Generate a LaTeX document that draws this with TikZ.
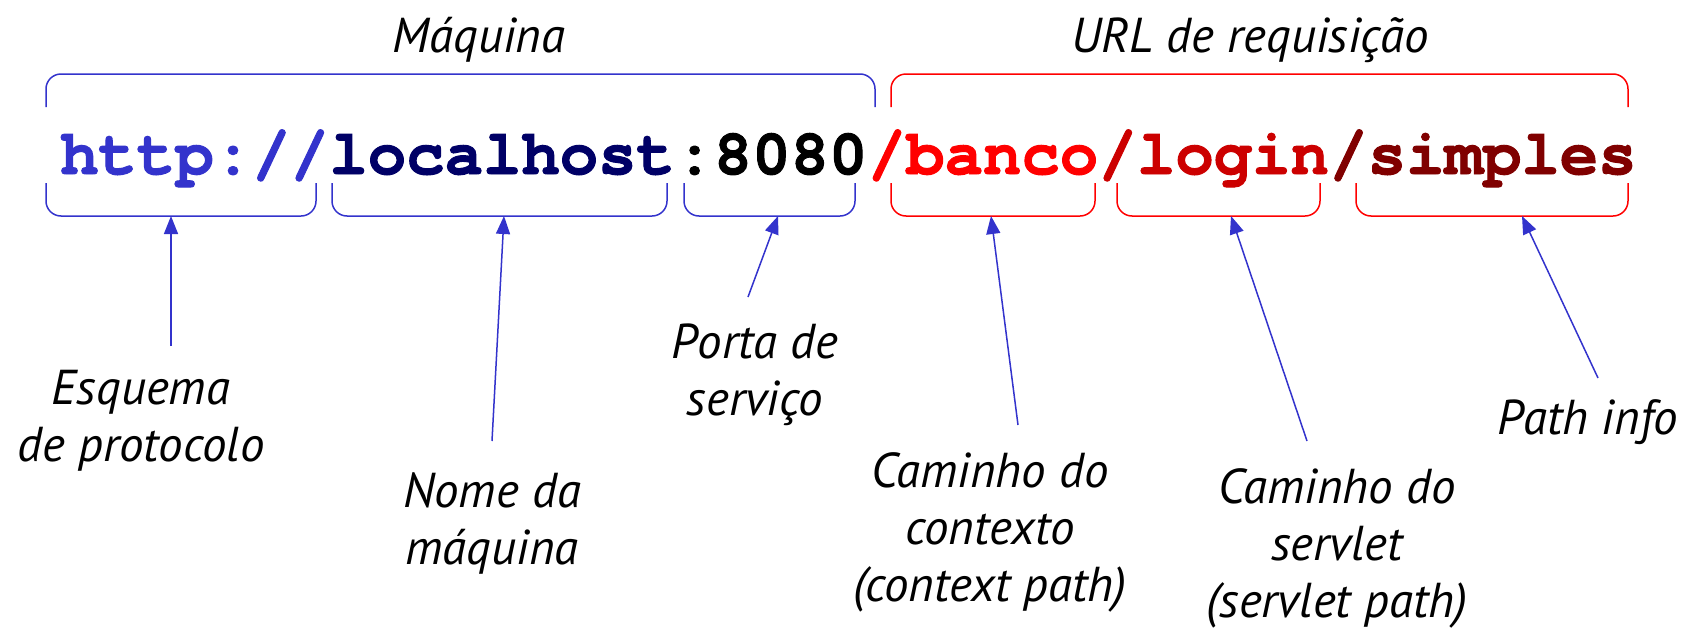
\documentclass[tikz,border=0pt]{standalone}
\usepackage{fontspec}
\setsansfont{PT Sans}
\setmonofont{texgyrecursor-regular.otf}[BoldFont=texgyrecursor-bold.otf, BoldFeatures={FakeBold=1.5}]
\usetikzlibrary{arrows.meta}
\definecolor{azul}{HTML}{3333CC}
\definecolor{marinho}{HTML}{000066}
\definecolor{vermelho}{HTML}{FF0000}
\definecolor{rubro}{HTML}{CC0000}
\definecolor{vinho}{HTML}{800000}

\begin{document}
\begin{tikzpicture}
        [x=1pt,y=-1pt,
         url/.style={font=\ttfamily\bfseries\fontsize{64}{64}\selectfont, inner sep=0pt, anchor=base west},
         rotulo/.style={font=\sffamily\itshape\fontsize{49}{57}\selectfont, align=center, inner sep=0pt},
         chave/.style={line width=1.5pt, rounded corners=15pt},
         seta/.style={draw=azul, line width=1.5pt, -{Triangle[width=14pt,length=18pt]}}]
        \useasboundingbox (0,0) rectangle (1708,640);
        %-----URL
         \node[url, text=azul]     (proto) at (60,174) {http://};
         \node[url, text=marinho]  (host)  at (proto.base east) {localhost};
         \node[url, text=black]    (port)  at (host.base east) {:8080};
         \node[url, text=vermelho] (ctx)   at (port.base east) {/banco};
         \node[url, text=rubro]    (srv)   at (ctx.base east) {/login};
         \node[url, text=vinho]    (info)  at (srv.base east) {/simples};

        %-----chaves de cima
         \node[rotulo, anchor=base] (maq) at (479,52) {Máquina};
         \node[rotulo, anchor=base] (req) at (1250,52) {URL de requisição};
         \draw[chave, azul] (46,107) -- (46,74) -- (875,74) -- (875,107);
         \draw[chave, vermelho] (891,107) -- (891,74) -- (1628,74) -- (1628,107);

        %-----chaves de baixo
         \foreach \a/\b/\c in {46/316/azul, 332/667/azul, 684/855/azul,
                               891/1095/vermelho, 1117/1320/vermelho, 1356/1628/vermelho}
         \draw[chave, \c] (\a,183) -- (\a,216) -- (\b,216) -- (\b,183);

         \coordinate (cProto) at (171,216);
         \coordinate (cHost)  at (504,216);
         \coordinate (cPort)  at (778,216);
         \coordinate (cCtx)   at (991,216);
         \coordinate (cSrv)   at (1231,216);
         \coordinate (cInfo)  at (1522,216);

        %-----rotulos
         \node[rotulo, anchor=north] (ESQ) at (141,370) {Esquema\\de protocolo};
         \node[rotulo, anchor=north] (NOM) at (492,472) {Nome da\\máquina};
         \node[rotulo, anchor=north] (POR) at (755,324) {Porta de\\serviço};
         \node[rotulo, anchor=north] (CTX) at (990,452) {Caminho do\\contexto\\(context path)};
         \node[rotulo, anchor=north] (SRV) at (1337,468) {Caminho do\\servlet\\(servlet path)};
         \node[rotulo, anchor=north] (INF) at (1588,399) {Path info};

         \draw[seta] ([xshift=30pt,yshift=24pt]ESQ.north) -- (cProto);
         \draw[seta] ([yshift=31pt]NOM.north) -- (cHost);
         \draw[seta] ([xshift=-7pt,yshift=27pt]POR.north) -- (cPort);
         \draw[seta] ([xshift=28pt,yshift=27pt]CTX.north) -- (cCtx);
         \draw[seta] ([xshift=-30pt,yshift=27pt]SRV.north) -- (cSrv);
         \draw[seta] ([xshift=10pt,yshift=21pt]INF.north) -- (cInfo);
\end{tikzpicture}
\end{document}
